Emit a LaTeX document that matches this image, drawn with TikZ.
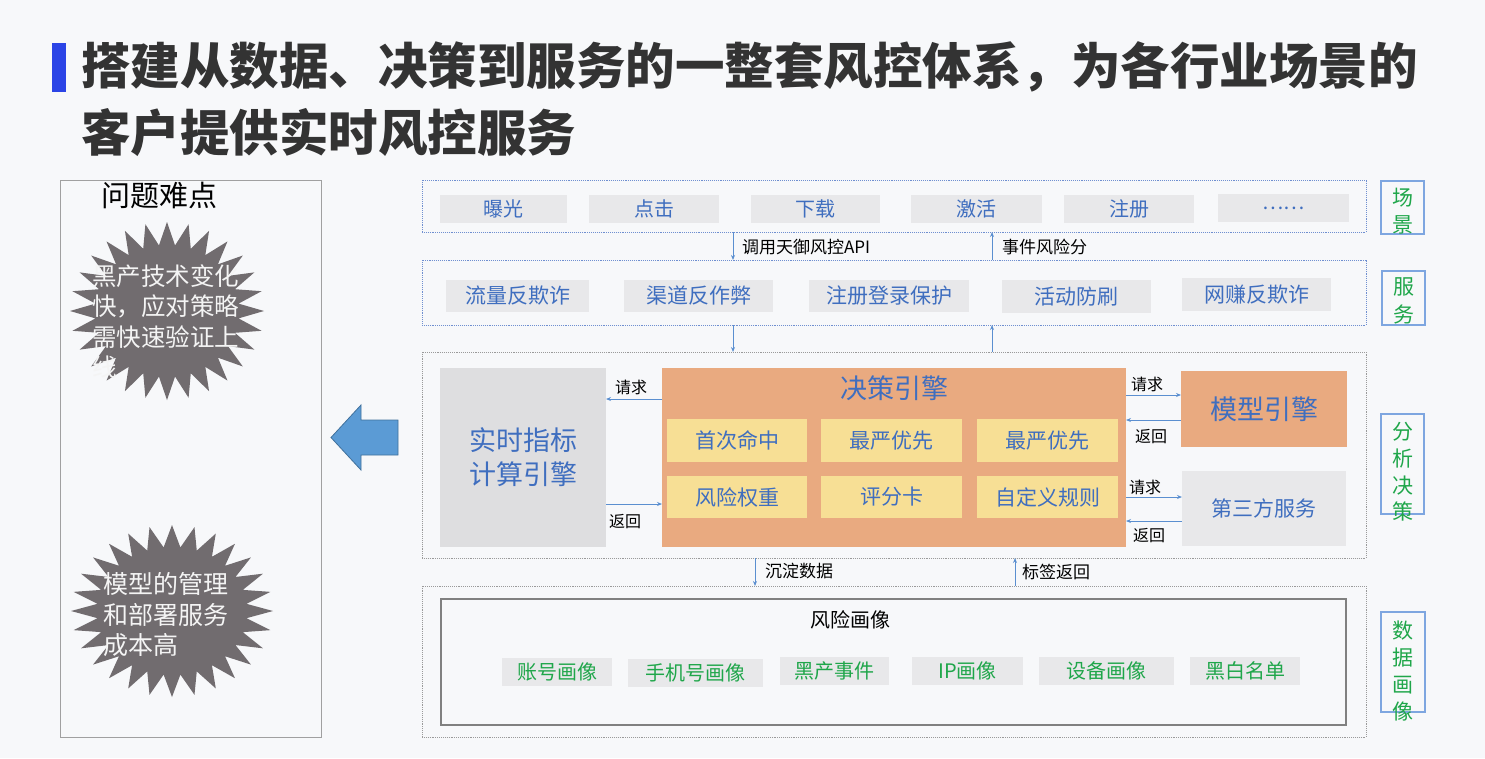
\documentclass[tikz,border=0pt]{standalone}
\usepackage{fontspec}
\setmainfont{Noto Sans CJK SC}
\usetikzlibrary{arrows.meta}
\definecolor{bg}{HTML}{F7F8FA}
\definecolor{titlebar}{HTML}{2B44E6}
\definecolor{titletext}{HTML}{333333}
\definecolor{panelline}{HTML}{A0A0A0}
\definecolor{starfill}{HTML}{716C6F}
\definecolor{startext}{HTML}{F4F4F4}
\definecolor{arrowfill}{HTML}{5B9BD5}
\definecolor{arrowdraw}{HTML}{41719C}
\definecolor{itemgray}{HTML}{E8E8EA}
\definecolor{itemtext}{HTML}{3F6EBF}
\definecolor{dotblue}{HTML}{6F8FD0}
\definecolor{dotgray}{HTML}{9A9A9A}
\definecolor{enginegray}{HTML}{DEDEE0}
\definecolor{orange}{HTML}{E9AA80}
\definecolor{yellowbox}{HTML}{F7DF95}
\definecolor{greentext}{HTML}{1FA64A}
\definecolor{lblbox}{HTML}{7EA6E0}
\definecolor{connblue}{HTML}{5B8FD0}
\newcommand\fsz[2]{\fontsize{#1pt}{#2pt}\selectfont}
\newcommand\bx[7]{\node[#1, minimum width={(#5-#3)*1pt}, minimum height={(#6-#4)*1pt}] (#2) at ({(#3+#5)/2},{(#4+#6)/2}) {#7};}
\begin{document}
\begin{tikzpicture}[x=1pt,y=-1pt,
  plain/.style={inner sep=0, outer sep=0},
  framebl/.style={plain, draw=dotblue, densely dotted, line width=0.9pt},
  framegr/.style={plain, draw=dotgray, densely dotted, line width=0.9pt},
  panel/.style={plain, draw=panelline, line width=1pt},
  item/.style={plain, fill=itemgray, text=itemtext, font=\fsz{20}{24}},
  sitem/.style={plain, fill=itemgray, text=itemtext, font=\fsz{21}{25}},
  yitem/.style={plain, fill=yellowbox, text=itemtext, font=\fsz{21}{25}},
  ditem/.style={plain, fill=itemgray, text=greentext, font=\fsz{20}{24}},
  lblframe/.style={plain, draw=lblbox, line width=1.2pt},
  vlabel/.style={plain, text=greentext, font=\fsz{21}{27}, align=center},
  conn/.style={draw=connblue, line width=0.9pt, -{Stealth[length=5pt,width=4pt]}},
  lbl/.style={plain, text=black, font=\fsz{16}{19}},
  clbl/.style={plain, text=black, font=\fsz{17}{20}, anchor=west}]
\useasboundingbox (0,0) rectangle (1485,758);
\fill[bg] (0,0) rectangle (1485,758);

% title
\bx{plain, fill=titlebar}{tbar}{52}{43}{66}{92}{}
\node[plain, anchor=west, text=titletext, font=\fsz{49.5}{56}\bfseries] (t1) at (81,67) {搭建从数据、决策到服务的一整套风控体系，为各行业场景的};
\node[plain, anchor=west, text=titletext, font=\fsz{49.5}{56}\bfseries] (t2) at (81,133) {客户提供实时风控服务};

% left panel
\bx{panel}{left}{60}{180}{321}{737}{}
\node[plain, text=black, font=\fsz{29}{34}] (prob) at (159,195) {问题难点};
\fill[starfill] plot[domain=0:55, samples=56, variable=\k]
  ({167+ifthenelse(mod(round(\k),2)==0,97,72)*cos(90+\k*6.428571)},
   {311+ifthenelse(mod(round(\k),2)==0,89,66)*sin(90+\k*6.428571)}) -- cycle;
\node[plain, anchor=west, align=left, text=startext, font=\fsz{24.5}{30.5}] (s1) at (92,321.5) {黑产技术变化\\快，应对策略\\需快速验证上\\线};
\fill[starfill] plot[domain=0:55, samples=56, variable=\k]
  ({172+ifthenelse(mod(round(\k),2)==0,101,75)*cos(90+\k*6.428571)},
   {611+ifthenelse(mod(round(\k),2)==0,86,64)*sin(90+\k*6.428571)}) -- cycle;
\node[plain, anchor=west, align=left, text=startext, font=\fsz{25}{30.5}] (s2) at (103,615) {模型的管理\\和部署服务\\成本高};

% big left arrow
\fill[arrowfill, draw=arrowdraw, line width=0.8pt] (398,420) -- (361,420) -- (361,405) -- (331,437.5) -- (361,470) -- (361,455) -- (398,455) -- cycle;

% scene row
\bx{framebl}{scene}{422}{180}{1366}{232}{}
\bx{item}{sc1}{440}{195}{567}{223}{曝光}
\bx{item}{sc2}{589}{195}{719}{223}{点击}
\bx{item}{sc3}{751}{195}{880}{223}{下载}
\bx{item}{sc4}{911}{195}{1042}{223}{激活}
\bx{item}{sc5}{1064}{195}{1194}{223}{注册}
\bx{item}{sc6}{1218}{194}{1349}{222}{……}

% service row
\bx{framebl}{svc}{422}{260}{1366}{325}{}
\bx{sitem}{sv1}{446}{280}{589}{312}{流量反欺诈}
\bx{sitem}{sv2}{624}{280}{773}{312}{渠道反作弊}
\bx{sitem}{sv3}{809}{280}{969}{312}{注册登录保护}
\bx{sitem}{sv4}{1002}{280}{1151}{313}{活动防刷}
\bx{sitem}{sv5}{1182}{278}{1331}{311}{网赚反欺诈}

\draw[conn] (scene.south -| 733,0) -- (svc.north -| 733,0);
\node[clbl] (l1) at (742,247) {调用天御风控API};
\draw[conn] (svc.north -| 992,0) -- (scene.south -| 992,0);
\node[clbl] (l2) at (1002,247) {事件风险分};

% analysis
\bx{framegr}{ana}{422}{352}{1366}{558}{}
\draw[conn] (svc.south -| 733,0) -- (ana.north -| 733,0);
\draw[conn] (ana.north -| 992,0) -- (svc.south -| 992,0);

\bx{plain, fill=enginegray, text=itemtext, font=\fsz{27}{34}, align=center}{rt}{440}{368}{606}{547}{实时指标\\计算引擎}
\bx{plain, fill=orange}{dec}{662}{368}{1126}{547}{}
\node[plain, text=itemtext, font=\fsz{27}{32}] (dect) at (894,388) {决策引擎};
\bx{yitem}{y1}{667}{419}{807}{462}{首次命中}
\bx{yitem}{y2}{821}{419}{962}{462}{最严优先}
\bx{yitem}{y3}{977}{419}{1118}{462}{最严优先}
\bx{yitem}{y4}{667}{476}{807}{518}{风险权重}
\bx{yitem}{y5}{821}{476}{962}{518}{评分卡}
\bx{yitem}{y6}{977}{476}{1118}{518}{自定义规则}
\bx{plain, fill=orange, text=itemtext, font=\fsz{27}{32}}{model}{1181}{371}{1347}{447}{模型引擎}
\bx{plain, fill=itemgray, text=itemtext, font=\fsz{21}{25}}{third}{1182}{471}{1346}{546}{第三方服务}

\draw[conn] (dec.west |- 0,399) -- (rt.east |- 0,399);
\node[lbl] (r1) at (631,387) {请求};
\draw[conn] (rt.east |- 0,504) -- (dec.west |- 0,504);
\node[lbl] (r2) at (625,522) {返回};
\draw[conn] (dec.east |- 0,395) -- (model.west |- 0,395);
\node[lbl] (r3) at (1147,384) {请求};
\draw[conn] (model.west |- 0,420) -- (dec.east |- 0,420);
\node[lbl] (r4) at (1151,437) {返回};
\draw[conn] (dec.east |- 0,497) -- (third.west |- 0,497);
\node[lbl] (r5) at (1145,487) {请求};
\draw[conn] (third.west |- 0,521) -- (dec.east |- 0,521);
\node[lbl] (r6) at (1149,536) {返回};

% data
\bx{framegr}{dat}{422}{586}{1366}{737}{}
\draw[conn] (ana.south -| 755,0) -- (dat.north -| 755,0);
\node[clbl] (l3) at (765,571) {沉淀数据};
\draw[conn] (dat.north -| 1015,0) -- (ana.south -| 1015,0);
\node[clbl] (l4) at (1022,572) {标签返回};
\bx{plain, draw=gray, line width=1.2pt}{inner}{441}{599}{1346}{725}{}
\node[plain, text=black, font=\fsz{20}{24}] (risk) at (850,620) {风险画像};
\bx{ditem}{d1}{502}{658}{612}{686}{账号画像}
\bx{ditem}{d2}{628}{659}{763}{687}{手机号画像}
\bx{ditem}{d3}{780}{657}{889}{685}{黑产事件}
\bx{ditem}{d4}{912}{657}{1023}{685}{IP画像}
\bx{ditem}{d5}{1039}{657}{1174}{685}{设备画像}
\bx{ditem}{d6}{1190}{657}{1300}{685}{黑白名单}

% right labels
\bx{lblframe}{lb1}{1381}{181}{1424}{234}{}
\node[vlabel] (v1) at (1403,211) {场\\景};
\bx{lblframe}{lb2}{1382}{271}{1425}{325}{}
\node[vlabel, font=\fsz{21}{28}] (v2) at (1404,301) {服\\务};
\bx{lblframe}{lb3}{1381}{414}{1424}{514}{}
\node[vlabel, font=\fsz{21}{26.7}] (v3) at (1403,472) {分\\析\\决\\策};
\bx{lblframe}{lb4}{1381}{612}{1425}{712}{}
\node[vlabel] (v4) at (1403,671) {数\\据\\画\\像};
\end{tikzpicture}
\end{document}
